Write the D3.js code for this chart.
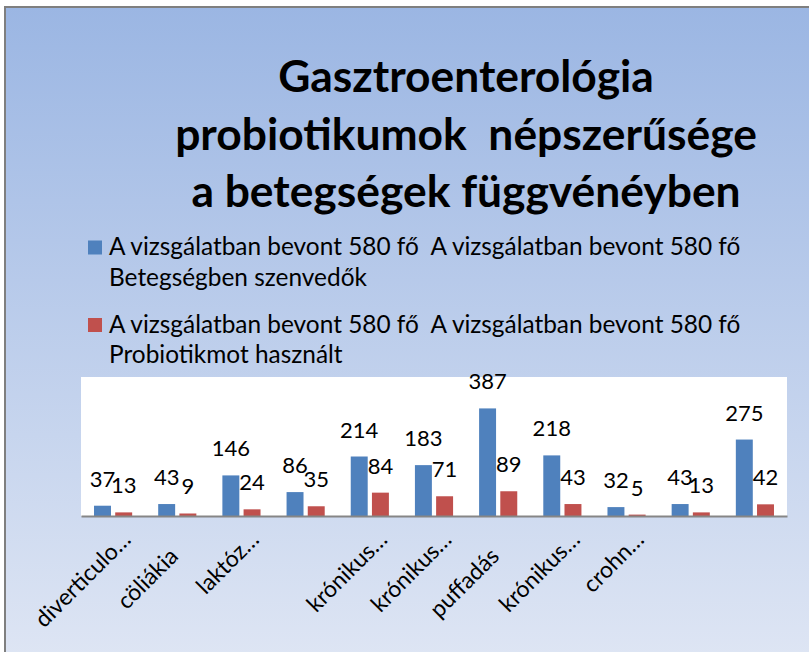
<!DOCTYPE html>
<html>
<head>
<meta charset="utf-8">
<script src="https://cdn.jsdelivr.net/npm/d3@7"></script>
<style>
  html, body { margin: 0; padding: 0; background: #fff; }
  svg { display: block; font-family: Lato, "Open Sans", sans-serif; }
</style>
</head>
<body>
<script>
// chart data (two labels carry trailing spaces, as in the source sheet)
var categories = ["diverticulo…", "cöliákia    ", "laktóz…", "", "krónikus…", "krónikus…", "puffadás    ", "krónikus…", "crohn…", "", ""];
var sick = [37, 43, 146, 86, 214, 183, 387, 218, 32, 43, 275];
var probiotic = [13, 9, 24, 35, 84, 71, 89, 43, 5, 13, 42];
var seriesLines = [
  ["A vizsgálatban bevont 580 fő  A vizsgálatban bevont 580 fő", "Betegségben szenvedők"],
  ["A vizsgálatban bevont 580 fő  A vizsgálatban bevont 580 fő", "Probiotikmot használt"]
];
var titleLines = ["Gasztroenterológia", "probiotikumok  népszerűsége", "a betegségek függvénéyben"];
var colors = ["#4F81BD", "#C0504D"];

const width = 809, height = 652;
const plot = { left: 81, right: 787, top: 377, bottom: 516 };

var svg = d3.select("body").append("svg").attr("width", width).attr("height", height);

var defs = svg.append("defs");
var grad = defs.append("linearGradient").attr("id", "bg").attr("x1", 0).attr("y1", 0).attr("x2", 0).attr("y2", 1);
grad.append("stop").attr("offset", "0%").attr("stop-color", "#9bb6e3");
grad.append("stop").attr("offset", "100%").attr("stop-color", "#dfe6f4");

svg.append("rect")
  .attr("x", 5).attr("y", 7)
  .attr("width", width + 10).attr("height", height + 10)
  .attr("fill", "url(#bg)")
  .attr("stroke", "#7f7f7f").attr("stroke-width", 2);

// title, sized to fit the reference width
var title = svg.append("text")
  .attr("text-anchor", "middle")
  .attr("font-weight", "bold")
  .attr("font-size", 40)
  .attr("fill", "#000");
title.selectAll("tspan")
  .data(titleLines)
  .enter()
  .append("tspan")
  .attr("x", 466)
  .attr("y", (d, i) => 92 + i * 57.5)
  .style("white-space", "pre")
  .text(d => d);
var probe = title.selectAll("tspan").nodes()[1].getComputedTextLength();
title.attr("font-size", 40 * 582 / probe);

// legend
var legend = svg.append("g").attr("id", "legend");
var legendText = legend.append("g").attr("font-size", 20).attr("fill", "#000");
seriesLines.forEach(function (lines, s) {
  var y0 = 255 + s * 77.5;
  legend.append("rect")
    .attr("x", 88).attr("y", y0 - 14.5)
    .attr("width", 14).attr("height", 14)
    .attr("fill", colors[s]);
  legendText.selectAll(null)
    .data(lines)
    .enter()
    .append("text")
    .attr("x", 109)
    .attr("y", (d, i) => y0 + i * 30.5)
    .style("white-space", "pre")
    .text(d => d);
});
var firstLine = legendText.select("text").node();
firstLine.textContent = "A vizsgálatban bevont 580 fő";
var lw = firstLine.getComputedTextLength();
firstLine.textContent = seriesLines[0][0];
legendText.attr("font-size", 20 * 310 / lw);

// plot area
svg.append("rect")
  .attr("x", plot.left).attr("y", plot.top)
  .attr("width", plot.right - plot.left).attr("height", plot.bottom - plot.top)
  .attr("fill", "#fff");

var x0 = d3.scaleBand()
  .domain(d3.range(categories.length))
  .range([plot.left, plot.right]);

var x1 = d3.scaleBand()
  .domain([0, 1])
  .range([0, x0.bandwidth()])
  .paddingInner(0.2)
  .paddingOuter(0.614);

var y = d3.scaleLinear()
  .domain([0, 500])
  .range([plot.bottom, plot.top]);

var rows = categories.map((c, i) => ({ i: i, values: [sick[i], probiotic[i]] }));

var groups = svg.append("g")
  .selectAll("g")
  .data(rows)
  .enter()
  .append("g")
  .attr("transform", d => `translate(${x0(d.i)},0)`);

groups.selectAll("rect")
  .data(d => d.values.map((v, s) => ({ s: s, v: v })))
  .enter()
  .append("rect")
  .attr("x", d => x1(d.s))
  .attr("y", d => y(d.v))
  .attr("width", x1.bandwidth())
  .attr("height", d => y(0) - y(d.v))
  .attr("fill", d => colors[d.s]);

groups.selectAll("text")
  .data(d => d.values.map((v, s) => ({ s: s, v: v })))
  .enter()
  .append("text")
  .attr("x", d => x1(d.s) + x1.bandwidth() / 2)
  .attr("y", d => y(d.v) - 19)
  .attr("text-anchor", "middle")
  .attr("font-size", 22)
  .attr("fill", "#000")
  .text(d => d.v);

// x axis
var xAxis = d3.axisBottom(x0)
  .tickSize(0)
  .tickFormat(i => categories[i]);

var gx = svg.append("g")
  .attr("transform", `translate(0,${plot.bottom})`)
  .call(xAxis);

gx.select(".domain")
  .attr("stroke", "#868686")
  .attr("stroke-width", 2);

gx.selectAll(".tick text")
  .attr("font-family", "Lato, 'Open Sans', sans-serif")
  .attr("font-size", 23)
  .attr("fill", "#000")
  .attr("text-anchor", "end")
  .attr("dy", 0)
  .attr("y", 0)
  .style("white-space", "pre")
  .attr("transform", "translate(19,25) rotate(-45)");
</script>
</body>
</html>
